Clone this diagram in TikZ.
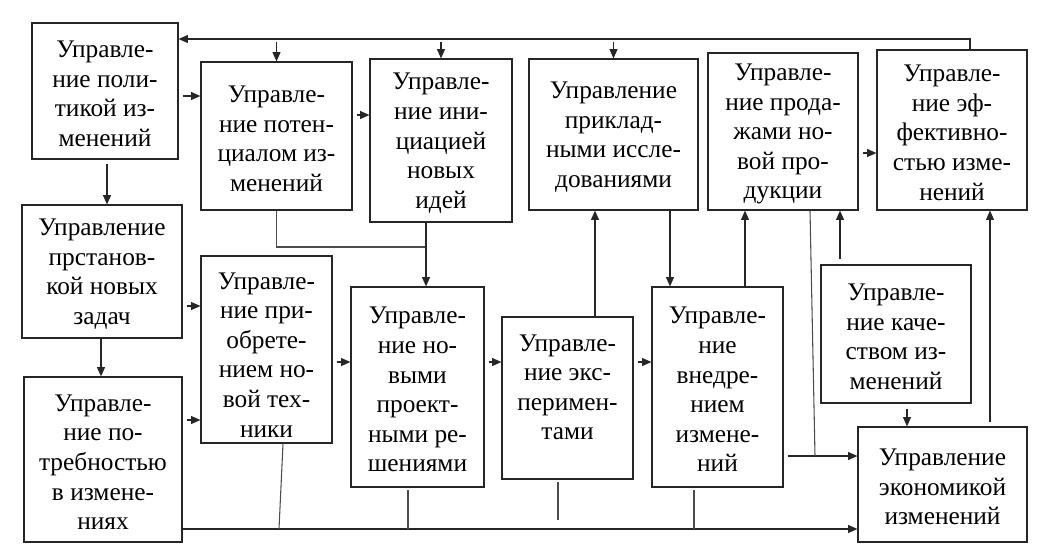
\documentclass[tikz,border=0pt]{standalone}
\usepackage{fontspec}
\setmainfont{Liberation Serif}
\usetikzlibrary{arrows.meta,fit}

\begin{document}
\begin{tikzpicture}[x=0.75pt, y=-0.75pt,
    blok/.style={draw=black!85, line width=0.9pt, inner sep=0pt},
    tekst/.style={align=center, inner sep=0pt, yshift=-2pt,
        font=\fontsize{19}{22.2}\selectfont},
    strelka/.style={draw=black!85, line width=0.8pt, -{Triangle[length=7pt, width=6pt]}},
    liniya/.style={draw=black!70, line width=0.8pt}]
    \useasboundingbox (0,0) rectangle (1045,547);

    % upper row
    \node[blok, fit={(32,23) (178,159)}, label={[tekst]center:{Управле-\\ние поли-\\тикой из-\\менений}}] (polit) {};
    \node[blok, fit={(201,62) (352,210)}, label={[tekst]center:{Управле-\\ние потен-\\циалом из-\\менений}}] (potenc) {};
    \node[blok, fit={(370,59) (512,222)}, label={[tekst]center:{Управле-\\ние ини-\\циацией\\новых\\идей}}] (iniz) {};
    \node[blok, fit={(529,59) (698,210)}, label={[tekst]center:{Управление\\приклад-\\ными иссле-\\дованиями}}] (prikl) {};
    \node[blok, fit={(708,53) (858,210)}, label={[tekst]center:{Управле-\\ние прода-\\жами но-\\вой про-\\дукции}}] (prod) {};
    \node[blok, fit={(877,50) (1027,210)}, label={[tekst]center:{Управле-\\ние эф-\\фективно-\\стью изме-\\нений}}] (effekt) {};

    % left column
    \node[blok, fit={(22,205) (182,338)}, label={[tekst]center:{Управление\\прстанов-\\кой новых\\задач}}] (postan) {};
    \node[blok, fit={(24,377) (182,542)}, label={[tekst]center:{Управле-\\ние по-\\требностью\\в измене-\\ниях}}] (potreb) {};

    % middle row
    \node[blok, fit={(201,256) (332,443)}, label={[tekst, yshift=-2pt]center:{Управле-\\ние при-\\обрете-\\нием но-\\вой тех-\\ники}}] (priobr) {};
    \node[blok, fit={(351,287) (484,487)}, label={[tekst]center:{Управле-\\ние но-\\выми\\проект-\\ными ре-\\шениями}}] (proekt) {};
    \node[blok, fit={(502,317) (633,479)}, label={[tekst, yshift=10pt]center:{Управле-\\ние экс-\\перимен-\\тами}}] (eksper) {};
    \node[blok, fit={(652,287) (783,487)}, label={[tekst]center:{Управле-\\ние\\внедре-\\нием\\измене-\\ний}}] (vnedr) {};
    \node[blok, fit={(821,265) (971,403)}, label={[tekst]center:{Управле-\\ние каче-\\ством из-\\менений}}] (kach) {};
    \node[blok, fit={(858,427) (1027,542)}, label={[tekst]center:{Управление\\экономикой\\изменений}}] (ekon) {};

    \coordinate (j1) at (426,247);
    \coordinate (j2) at (815,456);

    % feedback line along the top
    \draw[strelka] (effekt.north -| 970,0) |- (polit.east |- 0,39);
    \draw[strelka, shorten <=2pt] (potenc.north |- 0,39) -- (potenc.north);
    \draw[strelka, shorten <=2pt] (iniz.north |- 0,39) -- (iniz.north);
    \draw[strelka, shorten <=2pt] (prikl.north |- 0,39) -- (prikl.north);

    % horizontal arrows
    \draw[strelka, shorten <=3pt] (polit.east |- 0,96) -- (potenc.west |- 0,96);
    \draw[strelka, shorten <=3pt] (potenc.east |- 0,115) -- (iniz.west |- 0,115);
    \draw[strelka, shorten <=3pt] (prod.east |- 0,153) -- (effekt.west |- 0,153);
    \draw[strelka, shorten <=3pt] (postan.east |- 0,306) -- (priobr.west |- 0,306);
    \draw[strelka, shorten <=3pt] (potreb.east |- 0,420) -- (priobr.west |- 0,420);
    \draw[strelka, shorten <=3pt] (priobr.east |- 0,362) -- (proekt.west |- 0,362);
    \draw[strelka, shorten <=3pt] (proekt.east |- 0,362) -- (eksper.west |- 0,362);
    \draw[strelka, shorten <=3pt] (eksper.east |- 0,362) -- (vnedr.west |- 0,362);
    \draw[strelka, shorten <=3pt] (vnedr.east |- j2) -- (ekon.west |- j2);

    % vertical arrows
    \draw[strelka, shorten <=3pt] (polit.south -| 107,0) -- (postan.north -| 107,0);
    \draw[strelka] (postan.south -| 101,0) -- (potreb.north -| 101,0);
    \draw[liniya] (potenc.south) |- (j1);
    \draw[strelka] (iniz.south -| j1) -- (proekt.north -| j1);
    \draw[strelka] (eksper.north -| 595,0) -- (prikl.south -| 595,0);
    \draw[strelka] (prikl.south -| 670,0) -- (vnedr.north -| 670,0);
    \draw[strelka] (vnedr.north -| 745,0) -- (prod.south -| 745,0);
    \draw[strelka, shorten <=4pt] (kach.north -| 840,0) -- (prod.south -| 840,0);
    \draw[strelka, shorten <=4pt] (kach.south -| 907,0) -- (ekon.north -| 907,0);
    \draw[strelka, shorten <=3pt] (ekon.north -| 990,0) -- (effekt.south -| 990,0);
    \draw[liniya] (prod.south -| 810,0) -- (j2);

    % bottom collecting line
    \draw[strelka] (potreb.east |- 0,529) -- (ekon.west |- 0,529);
    \draw[liniya] (priobr.south -| 283,0) -- (279,529);
    \draw[liniya, shorten <=2pt] (proekt.south -| 408,0) -- (408,529);
    \draw[liniya, shorten <=2pt] (eksper.south -| 558,0) -- (558,520);
    \draw[liniya, shorten <=2pt] (vnedr.south -| 694,0) -- (694,529);
\end{tikzpicture}
\end{document}
